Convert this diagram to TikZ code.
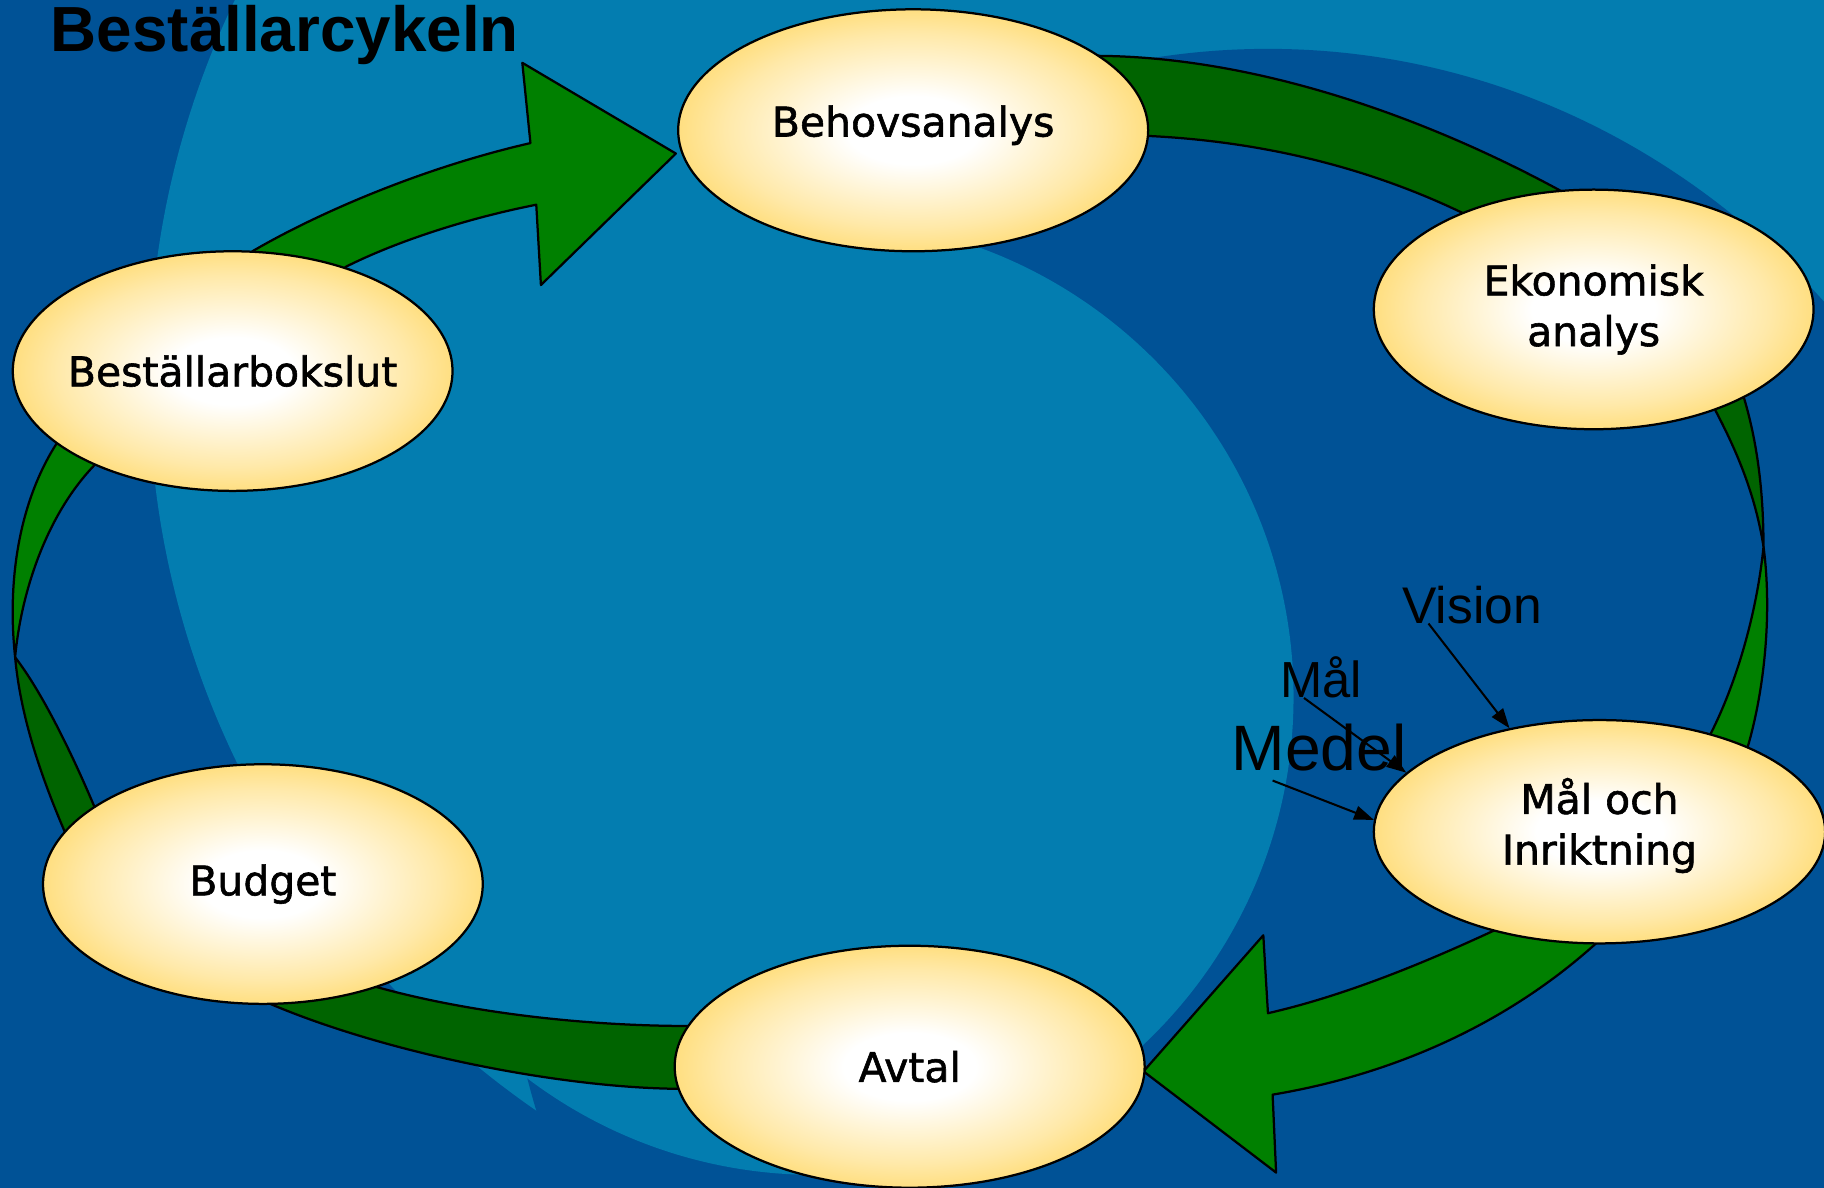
\documentclass[tikz,border=0pt]{standalone}
\usepackage{fontspec}
\usepackage{xcolor}
\usepackage{tikz}
\usetikzlibrary{shapes.geometric,arrows.meta,calc}
\setmainfont{DejaVu Sans}
\newfontfamily\fasfont[BoldFont={DejaVu Sans},BoldFeatures={FakeBold=1.4}]{DejaVu Sans}
\newfontfamily\arialfont{Liberation Sans}
\definecolor{morkbla}{HTML}{005296}
\definecolor{ljusbla}{HTML}{037DB0}
\definecolor{gron}{HTML}{008000}
\definecolor{morkgron}{HTML}{006400}
\definecolor{guld}{HTML}{FFC828}
\pgfdeclareradialshading{guldglans}{\pgfpoint{0bp}{0bp}}{%
  color(0bp)=(white); color(7bp)=(white); color(20bp)=(guld!40!white);
  color(32bp)=(guld!85!white); color(41bp)=(guld); color(50bp)=(guld)}

\begin{document}
\begin{tikzpicture}[
  x=0.1mm, y=-0.1mm,
  fas/.style={ellipse,draw=black,line width=0.55pt,shading=guldglans,
              inner xsep=-2mm,inner ysep=0pt,align=center,
              font=\fasfont\bfseries\fontsize{10}{12.4}\selectfont},
  stor/.style={minimum width=40.4mm,minimum height=20.8mm},
  liten/.style={minimum width=37.8mm,minimum height=20.6mm},
  etikett/.style={anchor=base west,inner sep=0pt,
              font=\arialfont\fontsize{12.4}{14}\selectfont},
  band/.style={draw=black,line width=0.55pt,line join=round},
  pil/.style={-{Triangle[length=1.7mm,width=1.2mm]},line width=0.5pt,black}
]
\path[use as bounding box] (0,0) rectangle (1568,1021);
\clip (0,0) rectangle (1568,1021);

% BACKGROUND
\fill[morkbla] (0,0) rectangle (1568,1021);
\fill[ljusbla] (916,326) ellipse (78.8mm and 77mm);
\fill[morkbla] (1090,742) ellipse (66mm and 70mm);
\fill[ljusbla] (701,599) circle (41.1mm);

% CONNECTORS
% Beställarbokslut -> Behovsanalys
\filldraw[band,fill=gron] (250,262) -- (217,216)
  .. controls (270,185) and (360,145) .. (456,123) -- (449,54) -- (581,132)
  -- (465,245) -- (461,176) .. controls (400,188) and (340,208) .. (298,229) -- cycle;
% Behovsanalys -> Ekonomisk analys
\filldraw[band,fill=morkgron] (930,80) -- (940,48)
  .. controls (1090,48) and (1250,110) .. (1370,180) -- (1290,200)
  .. controls (1200,150) and (1090,118) .. (960,116) -- cycle;
% Ekonomisk analys -> Mål och Inriktning
\filldraw[band,fill=morkgron] (1465,335) .. controls (1490,380) and (1508,420) .. (1516,470)
  .. controls (1516,420) and (1510,375) .. (1497,335) -- cycle;
\filldraw[band,fill=gron] (1516,470) .. controls (1524,530) and (1516,600) .. (1500,650)
  -- (1460,650) .. controls (1490,600) and (1510,530) .. (1516,470) -- cycle;
% Mål och Inriktning -> Avtal
\filldraw[band,fill=gron] (1330,780) -- (1282,801)
  .. controls (1230,825) and (1160,855) .. (1090,871) -- (1086,804) -- (983,921)
  -- (1097,1008) -- (1094,941) .. controls (1190,925) and (1290,885) .. (1372,811) -- cycle;
% Avtal -> Budget
\filldraw[band,fill=morkgron] (600,910) -- (583,936)
  .. controls (480,935) and (330,905) .. (230,862) -- (300,840) -- (322,848)
  .. controls (400,870) and (500,882) .. (593,882) -- cycle;
% Budget -> Beställarbokslut
\filldraw[band,fill=gron] (55,372) .. controls (20,420) and (5,490) .. (13,565)
  .. controls (18,510) and (40,440) .. (85,396) -- cycle;
\filldraw[band,fill=morkgron] (13,565) .. controls (18,620) and (38,675) .. (60,725)
  -- (90,715) .. controls (70,665) and (40,600) .. (13,565) -- cycle;

% CYCLE STEPS
\node[fas,stor,text depth=1.6mm] (beh) at (785,112) {Behovsanalys};
\node[fas,liten] (eko) at (1370,266) {Ekonomisk\\analys};
\node[fas,minimum width=38.8mm,minimum height=19.2mm,text depth=1.8mm] (mal) at (1375,715) {Mål och\\Inriktning};
\node[fas,stor]  (avt) at (782,917)  {Avtal};
\node[fas,liten] (bud) at (226,760)  {Budget};
\node[fas,liten] (bok) at (200,319)  {Beställarbokslut};

% LABELS
\node[etikett,font=\arialfont\bfseries\fontsize{15.6}{18}\selectfont] (rubrik) at (43,44) {Beställarcykeln};
\node[etikett,font=\arialfont\fontsize{12.6}{14}\selectfont] (vision) at (1205,536) {Vision};
\node[etikett] (malord) at (1100,600) {Mål};
\node[etikett,font=\arialfont\fontsize{15.7}{17}\selectfont] (medel) at (1058,662) {Medel};

\draw[pil] ([xshift=2.3mm]vision.base west) -- (mal.131);
\draw[pil] ([xshift=2.1mm]malord.base west) -- (mal.163);
\draw[pil] ([xshift=3.6mm,yshift=-0.9mm]medel.base west) -- (mal.177);
\end{tikzpicture}
\end{document}
